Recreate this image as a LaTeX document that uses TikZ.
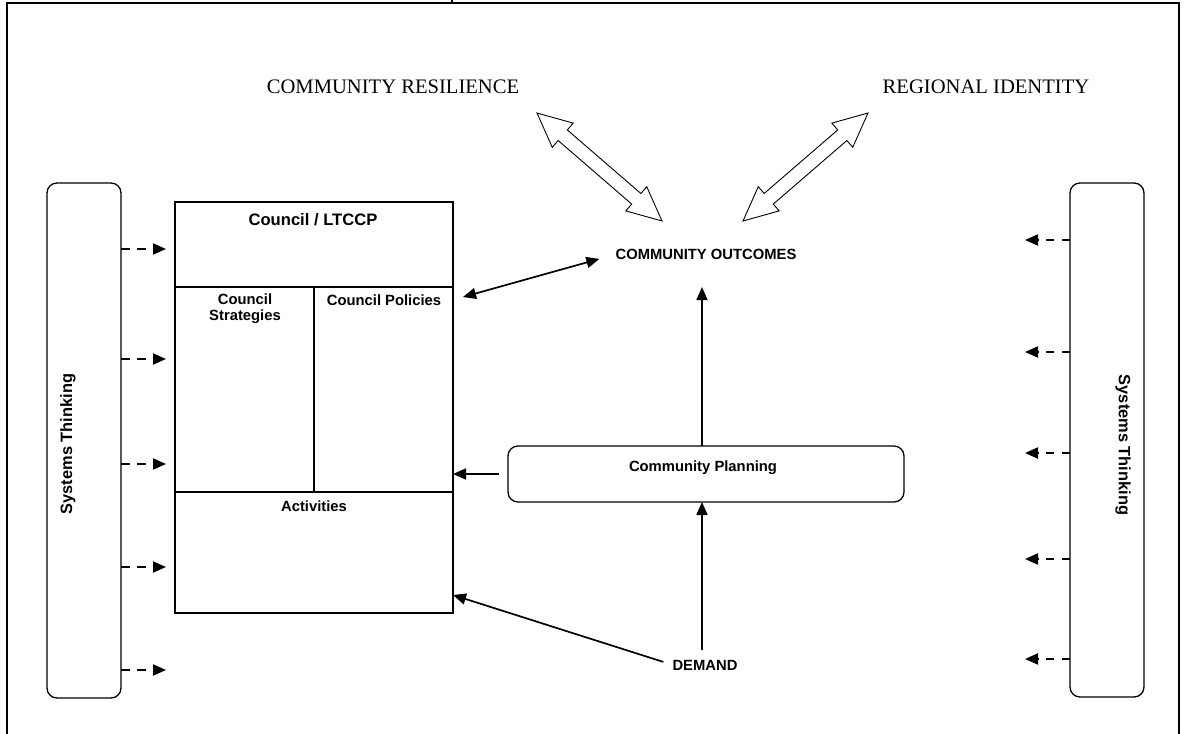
\documentclass[tikz,border=0pt]{standalone}
\usepackage{fontspec}
\setmainfont{Liberation Serif}
\setsansfont{Liberation Sans}
\usetikzlibrary{calc,arrows.meta}
\newcommand{\hollowdarrow}[2]{%
  \path ($(#1)!34pt!(#2)$) coordinate (hpa) ($(#2)!34pt!(#1)$) coordinate (hpb);
  \draw[line width=0.9pt, fill=white, line join=miter]
    (#1) -- ($(hpa)!16pt!90:(#2)$) -- ($(hpa)!7pt!90:(#2)$)
    -- ($(hpb)!7pt!-90:(#1)$) -- ($(hpb)!16pt!-90:(#1)$) -- (#2)
    -- ($(hpb)!16pt!90:(#1)$) -- ($(hpb)!7pt!90:(#1)$)
    -- ($(hpa)!7pt!-90:(#2)$) -- ($(hpa)!16pt!-90:(#2)$) -- cycle;}
\begin{document}
\begin{tikzpicture}[x=1pt,y=-1pt,
  lbl/.style={font=\sffamily\bfseries\fontsize{14.8}{15.5}\selectfont, inner sep=0pt, anchor=base},
  sttext/.style={font=\sffamily\bfseries\fontsize{16.4}{17}\selectfont, inner sep=0pt},
  big/.style={font=\fontsize{20.6}{22}\selectfont, inner sep=0pt, anchor=base},
  conn/.style={line width=1.7pt, -{Triangle[length=13pt,width=11pt]}},
  dconn/.style={line width=1.9pt, -{Triangle[length=13pt,width=11pt]}, dash pattern=on 8.5pt off 7.5pt},
  rbox/.style={draw, line width=1.3pt, rounded corners=10pt, inner sep=0pt, outer sep=0pt, anchor=north west},
  sqbox/.style={draw, line width=1.6pt, inner sep=0pt, outer sep=0pt, anchor=north west}]
\useasboundingbox (0,0) rectangle (1187,734);
% frame
\draw[line width=2pt] (7,740) -- (7,3) -- (1179,3) -- (1179,740);
\draw[line width=1.5pt] (452,0) -- (452,3);
% top labels
\node[big] (cr) at (393,93) {COMMUNITY RESILIENCE};
\node[big] (ri) at (986,93) {REGIONAL IDENTITY};
\node[lbl] (co) at (706,259) {COMMUNITY OUTCOMES};
% hollow double arrows
\coordinate (a1s) at (537,113); \coordinate (a1e) at (662,221);
\coordinate (a2s) at (868,113); \coordinate (a2e) at (743,221);
\hollowdarrow{a1s}{a1e}
\hollowdarrow{a2s}{a2e}
% council box
\node[sqbox, minimum width=278pt, minimum height=411pt] (council) at (175,202) {};
\draw[line width=1.6pt] ($(council.north west)+(0,85)$) -- ($(council.north east)+(0,85)$);
\draw[line width=1.6pt] ($(council.north west)+(0,290)$) -- ($(council.north east)+(0,290)$);
\draw[line width=1.6pt] (314,287) -- (314,492);
\node[lbl, font=\sffamily\bfseries\fontsize{16.6}{17}\selectfont] (ltccp) at (313,225) {Council / LTCCP};
\node[lbl, align=center] (strat) at (245,320) {Council\\Strategies};
\node[lbl] (pol) at (384,305) {Council Policies};
\node[lbl] (act) at (314,511) {Activities};
% systems thinking boxes
\node[rbox, minimum width=74pt, minimum height=515pt] (stL) at (47,183) {};
\node[rbox, minimum width=74pt, minimum height=514pt] (stR) at (1070,183) {};
\node[sttext, rotate=90] (stLt) at (68,444) {Systems Thinking};
\node[sttext, rotate=-90] (stRt) at (1123,445) {Systems Thinking};
\foreach \y in {249,359,464,567,670}
  \draw[dconn] (stL.east |- {(0,\y)}) -- ++(45,0);
\foreach \y in {240,352,453,559,659}
  \draw[dconn] (stR.west |- {(0,\y)}) -- ++(-45,0);
% community planning
\node[rbox, minimum width=396pt, minimum height=56pt] (cpbox) at (508,446) {};
\node[lbl] (cp) at (703,471) {Community Planning};
\node[lbl] (demand) at (705,670) {DEMAND};
% connectors
\coordinate (cptop) at (702,446);
\coordinate (cotip) at (702,287);
\draw[conn] (cptop) -- (cotip);
\coordinate (dmtop) at (702,650);
\coordinate (cpbot) at (702,502);
\draw[conn] (dmtop) -- (cpbot);
\draw[conn] (cpbox.west) ++(-9,0) coordinate (cpl) -- (cpl -| council.east);
\coordinate (cb1) at ($(council.north east)+(10,95)$);
\coordinate (co1) at ($(co.west)+(-16,5)$);
\draw[line width=1.7pt, {Triangle[length=13pt,width=11pt]}-{Triangle[length=13pt,width=11pt]}] (cb1) -- (co1);
\coordinate (dm1) at ($(demand.west)+(-9,-3)$);
\draw[conn] (dm1) -- ($(council.south east)+(0,-18)$);
\end{tikzpicture}
\end{document}
